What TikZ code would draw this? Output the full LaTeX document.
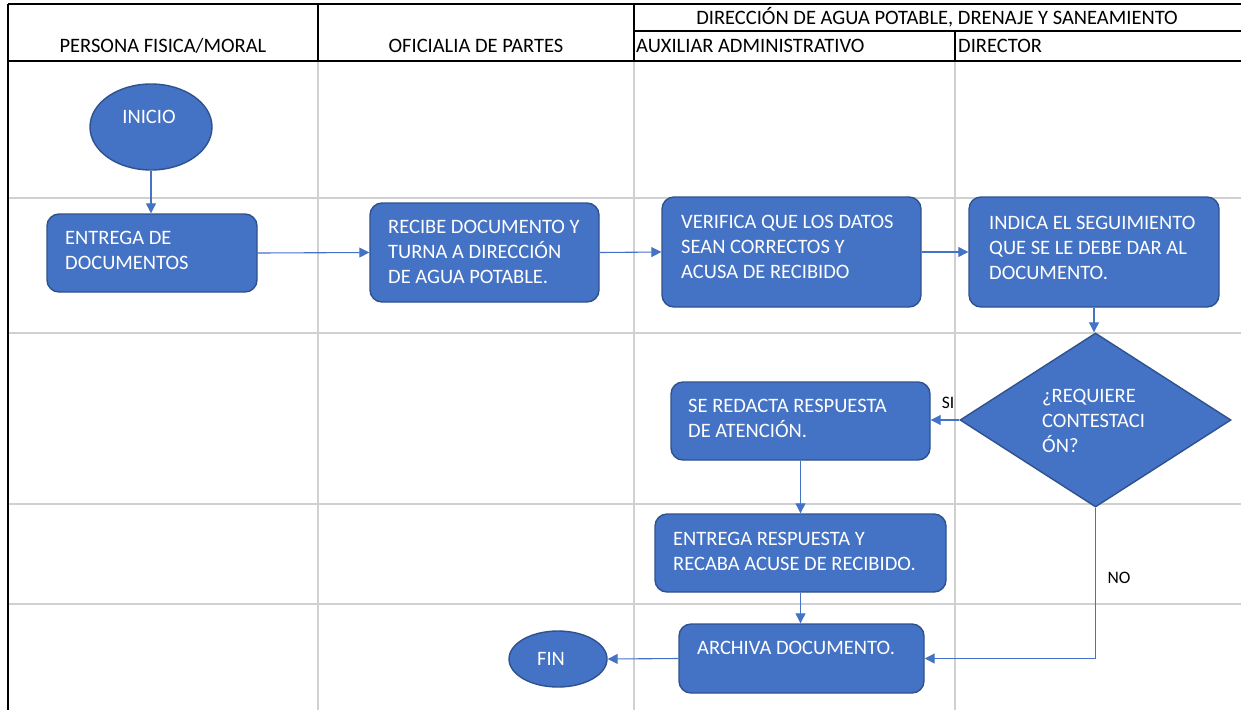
\documentclass[tikz,border=0pt]{standalone}
\usepackage{fontspec}
\setmainfont{Carlito}
\usetikzlibrary{shapes.geometric,arrows.meta}
\definecolor{boxfill}{HTML}{4472C4}
\definecolor{boxline}{HTML}{2F528F}
\definecolor{arrowc}{HTML}{4472C4}
\definecolor{gridc}{HTML}{D0D0D0}
\tikzset{
  hdrline/.style={black,line width=1.6pt},
  gridline/.style={gridc,line width=1.6pt},
  procbox/.style={draw=boxline,fill=boxfill,line width=1.4pt,rounded corners=12pt,inner sep=0pt},
  termnode/.style={ellipse,draw=boxline,fill=boxfill,line width=1.4pt,inner sep=0pt},
  decnode/.style={diamond,draw=boxline,fill=boxfill,line width=1.4pt,inner sep=0pt},
  boxtext/.style={text=white,inner sep=0pt,align=left,font=\fontsize{20.5}{25}\selectfont},
  hdrtext/.style={text=black,inner sep=0pt,font=\fontsize{20.5}{25}\selectfont},
  lbltext/.style={text=black,inner sep=0pt,font=\fontsize{17.5}{20}\selectfont},
  flow/.style={arrowc,line width=1.1pt,-{Triangle[length=10pt,width=10pt]}}
}
\begin{document}
\begin{tikzpicture}[x=1pt,y=-1pt]
\useasboundingbox (0,0) rectangle (1241,710);
\fill[white] (0,0) rectangle (1241,710);
% grid
\foreach \yy in {198,333,504,604} \draw[gridline] (8,\yy) -- (1241,\yy);
\foreach \xx in {318,634,955} \draw[gridline] (\xx,61) -- (\xx,710);
% header
\draw[hdrline] (8,4) -- (1241,4);
\draw[hdrline] (634,31) -- (1241,31);
\draw[hdrline] (8,61) -- (1241,61);
\draw[hdrline] (8,4) -- (8,710);
\draw[hdrline] (318,4) -- (318,61);
\draw[hdrline] (634,4) -- (634,61);
\draw[hdrline] (955,31) -- (955,61);
\node[hdrtext,anchor=base] (h1) at (163,52.6) {PERSONA FISICA/MORAL};
\node[hdrtext,anchor=base] (h2) at (476,52.6) {OFICIALIA DE PARTES};
\node[hdrtext,anchor=base] (h3) at (937,24.6) {DIRECCIÓN DE AGUA POTABLE, DRENAJE Y SANEAMIENTO};
\node[hdrtext,anchor=base west] (h4) at (636,52.6) {AUXILIAR ADMINISTRATIVO};
\node[hdrtext,anchor=base west] (h5) at (958,52.6) {DIRECTOR};
% shapes
\node[termnode,minimum width=122pt,minimum height=86pt] (inicio) at (151,127) {};
\node[procbox,minimum width=210pt,minimum height=78pt] (entrega) at (152,253) {};
\node[procbox,minimum width=229pt,minimum height=99pt] (recibe) at (484.5,252.5) {};
\node[procbox,minimum width=259pt,minimum height=110pt] (verifica) at (791.5,252) {};
\node[procbox,minimum width=250pt,minimum height=110pt] (indica) at (1094,252) {};
\node[decnode,minimum width=271pt,minimum height=174pt] (dec) at (1095.5,420) {};
\node[procbox,minimum width=259pt,minimum height=78pt] (redacta) at (800.5,421) {};
\node[procbox,minimum width=291pt,minimum height=78pt] (entresp) at (800.5,553) {};
\node[procbox,minimum width=245pt,minimum height=69pt] (archiva) at (801.5,658.5) {};
\node[termnode,minimum width=98pt,minimum height=56pt] (fin) at (558,659) {};
% texts
\node[boxtext,anchor=center] (inicio-t) at (149,117) {INICIO};
\node[boxtext,anchor=west] (entrega-t) at (65,250.5) {ENTREGA DE\\DOCUMENTOS};
\node[boxtext,anchor=west] (recibe-t) at (388,252) {RECIBE DOCUMENTO Y\\TURNA A DIRECCIÓN\\DE AGUA POTABLE.};
\node[boxtext,anchor=west] (verifica-t) at (681,247) {VERIFICA QUE LOS DATOS\\SEAN CORRECTOS Y\\ACUSA DE RECIBIDO};
\node[boxtext,anchor=west] (indica-t) at (989,248) {INDICA EL SEGUIMIENTO\\QUE SE LE DEBE DAR AL\\DOCUMENTO.};
\node[boxtext,anchor=west] (dec-t) at (1042,421) {¿REQUIERE\\CONTESTACI\\ÓN?};
\node[boxtext,anchor=west] (redacta-t) at (688,418) {SE REDACTA RESPUESTA\\DE ATENCIÓN.};
\node[boxtext,anchor=west] (entresp-t) at (673,551) {ENTREGA RESPUESTA Y\\RECABA ACUSE DE RECIBIDO.};
\node[boxtext,anchor=west] (archiva-t) at (697,648) {ARCHIVA DOCUMENTO.};
\node[boxtext,anchor=center] (fin-t) at (551,659) {FIN};
% connectors
\draw[flow] (inicio.south) -- (inicio.south |- entrega.north);
\draw[flow] (entrega.east) -- (recibe.west);
\draw[flow] (recibe.east) -- (verifica.west);
\draw[flow] (verifica.east) -- (indica.west);
\draw[flow] (indica.south) -- (indica.south |- dec.north);
\draw[flow] (dec.west) -- (dec.west -| redacta.east);
\draw[flow] (redacta.south) -- (entresp.north);
\draw[flow] (entresp.south) -- (entresp.south |- archiva.north);
\draw[flow] (archiva.west) -- (fin.east);
\draw[flow] (dec.south) |- (archiva.east);
\node[lbltext,anchor=center] (si) at (948,403) {SI};
\node[lbltext,anchor=center] (no) at (1119,578) {NO};
\end{tikzpicture}
\end{document}
